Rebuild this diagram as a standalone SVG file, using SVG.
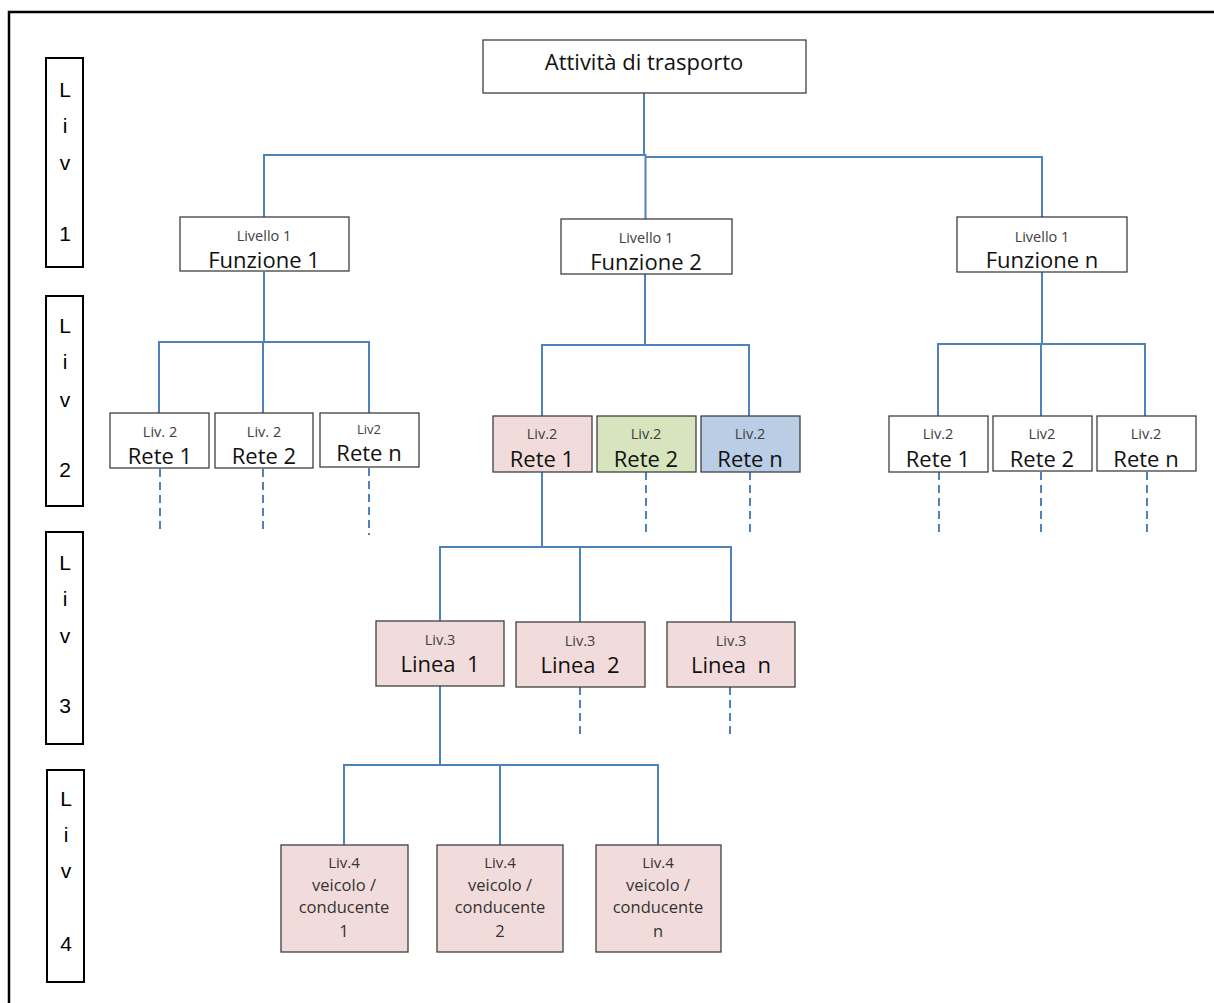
<svg xmlns="http://www.w3.org/2000/svg" width="1214" height="1003" viewBox="0 0 1214 1003">
<style>
.box{fill:#ffffff;stroke:#3f3f3f;stroke-width:1.3}
.pink{fill:#f2dcdb;stroke:#3f3f3f;stroke-width:1.3}
.green{fill:#d7e4bd;stroke:#3f3f3f;stroke-width:1.3}
.blue{fill:#b9cde5;stroke:#3f3f3f;stroke-width:1.3}
.lev{fill:#ffffff;stroke:#000000;stroke-width:2}
.big{font-family:"Open Sans","Liberation Sans",Arial,sans-serif;font-size:22px;fill:#111111;text-anchor:middle}
.sm{font-family:"Open Sans","Liberation Sans",Arial,sans-serif;font-size:14.5px;fill:#404040;text-anchor:middle}
.l4{font-family:"Open Sans","Liberation Sans",Arial,sans-serif;font-size:16.5px;fill:#333333;text-anchor:middle}
.lt{font-family:"Liberation Sans",Arial,sans-serif;font-size:21px;fill:#000000;text-anchor:middle}
.c{fill:none;stroke:#4f81bd;stroke-width:2}
.d{fill:none;stroke:#4f81bd;stroke-width:2;stroke-dasharray:8 5}
</style>
<rect x="0" y="0" width="1214" height="1003" fill="#ffffff"/>
<path d="M9 1003 V12 H1214" fill="none" stroke="#000000" stroke-width="2.5"/>

<g id="levels">
<g id="liv1"><rect class="lev" x="46" y="58" width="37" height="209"/>
<text class="lt" x="65" y="97">L</text><text class="lt" x="65" y="133">i</text><text class="lt" x="65" y="170">v</text><text class="lt" x="65" y="241">1</text></g>
<g id="liv2"><rect class="lev" x="46" y="296" width="37" height="210"/>
<text class="lt" x="65" y="333">L</text><text class="lt" x="65" y="369">i</text><text class="lt" x="65" y="407">v</text><text class="lt" x="65" y="477">2</text></g>
<g id="liv3"><rect class="lev" x="46" y="532" width="37" height="212"/>
<text class="lt" x="65" y="570">L</text><text class="lt" x="65" y="606">i</text><text class="lt" x="65" y="643">v</text><text class="lt" x="65" y="713">3</text></g>
<g id="liv4"><rect class="lev" x="47" y="770" width="37" height="212"/>
<text class="lt" x="66" y="806">L</text><text class="lt" x="66" y="842">i</text><text class="lt" x="66" y="878">v</text><text class="lt" x="66" y="951">4</text></g>
</g>

<g id="connectors">
<path class="c" d="M644 93 V155 H264 V217"/>
<path class="c" d="M644 155 H645.5 V219"/>
<path class="c" d="M645.5 157 H1042 V217"/>
<path class="c" d="M264 272 V342 M159 413 V342 H369 V413 M263 342 V413"/>
<path class="c" d="M645 274 V345 M542 416 V345 H749 V416"/>
<path class="c" d="M1042 272 V344 M938 416 V344 H1145 V416 M1041 344 V416"/>
<path class="c" d="M542 472 V547 M440 622 V547 H731 V622 M580 547 V622"/>
<path class="c" d="M440 686 V765 M344 846 V765 H658 V846 M500 765 V846"/>
<path class="d" d="M160 469 V533 M263 469 V533 M369 468 V535"/>
<path class="d" d="M646 472 V532 M750 472 V533"/>
<path class="d" d="M939 472 V532 M1041 472 V536 M1147 472 V536"/>
<path class="d" d="M580 687 V737 M730 687 V737"/>
</g>

<g id="n-root"><rect class="box" x="483" y="40" width="323" height="53"/><text class="big" x="644" y="70">Attività di trasporto</text></g>

<g id="n-f1"><rect class="box" x="180" y="217" width="169" height="54"/><text class="sm" x="264" y="241">Livello 1</text><text class="big" x="264" y="268">Funzione 1</text></g>
<g id="n-f2"><rect class="box" x="561" y="219" width="171" height="55"/><text class="sm" x="646" y="243">Livello 1</text><text class="big" x="646" y="270">Funzione 2</text></g>
<g id="n-fn"><rect class="box" x="957" y="217" width="170" height="55"/><text class="sm" x="1042" y="242">Livello 1</text><text class="big" x="1042" y="268">Funzione n</text></g>

<g id="n-l1r1"><rect class="box" x="110" y="413" width="99" height="55"/><text class="sm" x="160" y="437">Liv. 2</text><text class="big" x="160" y="464">Rete 1</text></g>
<g id="n-l1r2"><rect class="box" x="215" y="413" width="98" height="55"/><text class="sm" x="264" y="437">Liv. 2</text><text class="big" x="264" y="464">Rete 2</text></g>
<g id="n-l1rn"><rect class="box" x="320" y="413" width="99" height="54"/><text class="sm" x="369" y="434" style="font-size:13px">Liv2</text><text class="big" x="369" y="461">Rete n</text></g>

<g id="n-l2r1"><rect class="pink" x="493" y="416" width="99" height="56"/><text class="sm" x="542" y="439">Liv.2</text><text class="big" x="542" y="467">Rete 1</text></g>
<g id="n-l2r2"><rect class="green" x="597" y="416" width="99" height="56"/><text class="sm" x="646" y="439">Liv.2</text><text class="big" x="646" y="467">Rete 2</text></g>
<g id="n-l2rn"><rect class="blue" x="701" y="416" width="99" height="56"/><text class="sm" x="750" y="439">Liv.2</text><text class="big" x="750" y="467">Rete n</text></g>

<g id="n-l3r1"><rect class="box" x="889" y="416" width="99" height="56"/><text class="sm" x="938" y="439">Liv.2</text><text class="big" x="938" y="467">Rete 1</text></g>
<g id="n-l3r2"><rect class="box" x="993" y="416" width="99" height="55"/><text class="sm" x="1042" y="439">Liv2</text><text class="big" x="1042" y="467">Rete 2</text></g>
<g id="n-l3rn"><rect class="box" x="1097" y="416" width="99" height="55"/><text class="sm" x="1146" y="439">Liv.2</text><text class="big" x="1146" y="467">Rete n</text></g>

<g id="n-lin1"><rect class="pink" x="376" y="621" width="128" height="65"/><text class="sm" x="440" y="645">Liv.3</text><text class="big" x="440" y="672" xml:space="preserve">Linea  1</text></g>
<g id="n-lin2"><rect class="pink" x="516" y="622" width="129" height="65"/><text class="sm" x="580" y="646">Liv.3</text><text class="big" x="580" y="673" xml:space="preserve">Linea  2</text></g>
<g id="n-linn"><rect class="pink" x="667" y="622" width="128" height="65"/><text class="sm" x="731" y="646">Liv.3</text><text class="big" x="731" y="673" xml:space="preserve">Linea  n</text></g>

<g id="n-v1"><rect class="pink" x="281" y="845" width="127" height="107"/><text class="l4" x="344" y="868" style="font-size:15px">Liv.4</text><text class="l4" x="344" y="891">veicolo /</text><text class="l4" x="344" y="913">conducente</text><text class="l4" x="344" y="937">1</text></g>
<g id="n-v2"><rect class="pink" x="437" y="845" width="126" height="107"/><text class="l4" x="500" y="868" style="font-size:15px">Liv.4</text><text class="l4" x="500" y="891">veicolo /</text><text class="l4" x="500" y="913">conducente</text><text class="l4" x="500" y="937">2</text></g>
<g id="n-vn"><rect class="pink" x="596" y="845" width="125" height="107"/><text class="l4" x="658" y="868" style="font-size:15px">Liv.4</text><text class="l4" x="658" y="891">veicolo /</text><text class="l4" x="658" y="913">conducente</text><text class="l4" x="658" y="937">n</text></g>
</svg>
